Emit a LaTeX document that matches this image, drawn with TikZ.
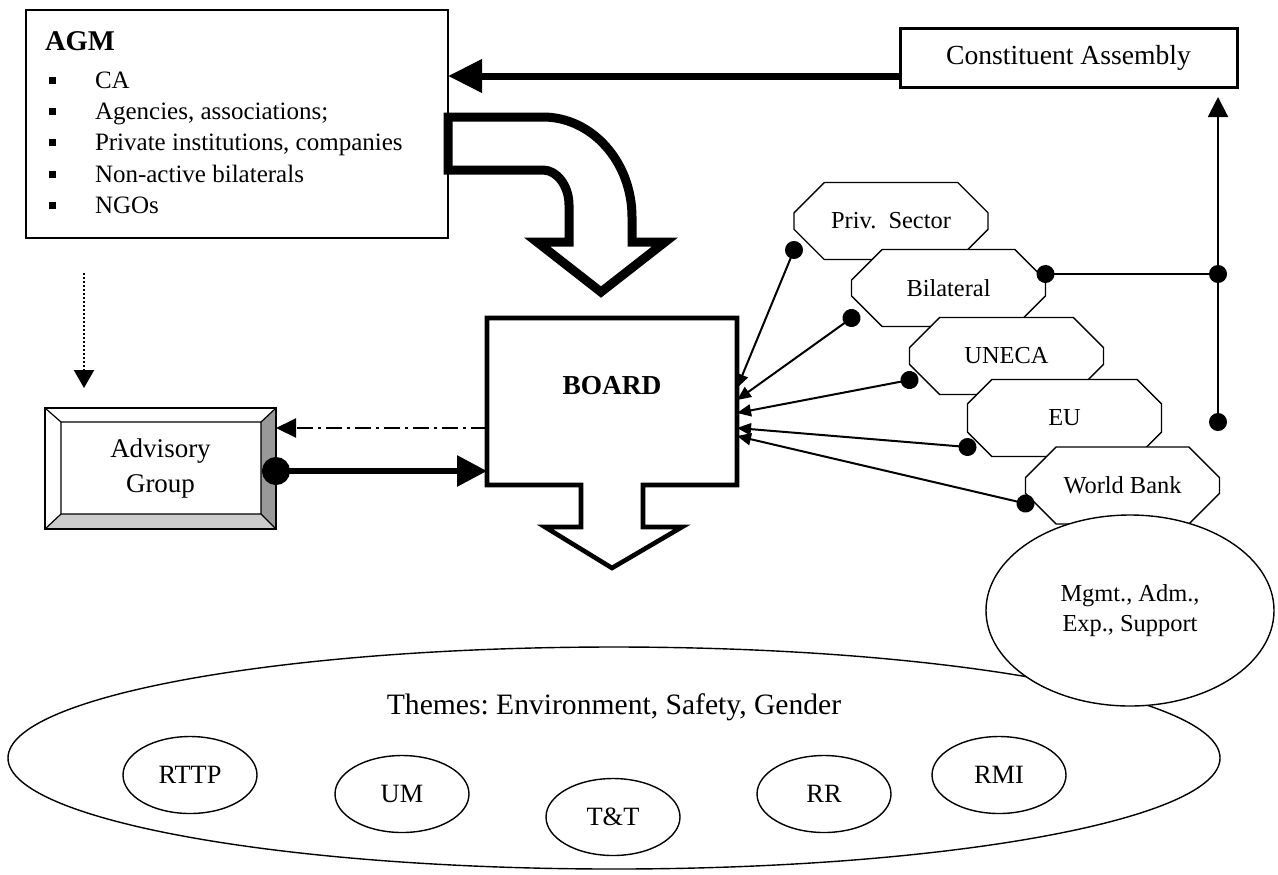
\documentclass[tikz,border=0pt]{standalone}
\usepackage{fontspec}
\setmainfont{Liberation Serif}
\usetikzlibrary{arrows.meta,shapes.geometric,shapes.misc}
\frenchspacing

\begin{document}
\begin{tikzpicture}[x=0.5pt,y=-0.5pt,
  every node/.style={inner sep=0pt,outer sep=0pt},
  agmbox/.style={draw,line width=1pt,minimum width=211pt,minimum height=114pt},
  cabox/.style={draw,line width=1.5pt,minimum width=168.5pt,minimum height=29.5pt,
    font=\fontsize{13.8}{16}\selectfont},
  listtext/.style={anchor=base west,font=\fontsize{12.5}{15}\selectfont},
  bullet/.style={fill,minimum size=3.5pt},
  octa/.style={chamfered rectangle,chamfered rectangle xsep=11pt,chamfered rectangle ysep=11pt,
    draw,fill=white,line width=0.7pt,minimum width=97pt,minimum height=38.5pt,
    font=\fontsize{12.2}{15}\selectfont},
  oval/.style={ellipse,draw,fill=white,line width=0.7pt,minimum width=67pt,minimum height=38.5pt,
    font=\fontsize{13.2}{16}\selectfont},
  blockline/.style={line width=2.3pt,line join=miter},
  bigarrow/.style={line width=3.5pt,-{Triangle[length=17pt,width=16pt]}},
  fatarrow/.style={line width=3pt,{Circle[length=14pt]}-{Triangle[length=15pt,width=15pt]},shorten <=-7pt},
  conn/.style={line width=1pt,{Circle[length=9pt]}-{Triangle[length=7pt,width=6pt]},shorten <=-4.5pt},
  upconn/.style={line width=1pt,{Circle[length=9pt]}-{Triangle[length=10pt,width=10pt]},shorten <=-4.5pt},
  dotend/.style={line width=0.7pt,{Circle[length=9pt]}-{Circle[length=9pt]},shorten <=-4.5pt,shorten >=-4.5pt},
  dotarrow/.style={line width=1pt,dash pattern=on 1pt off 1pt,-{Triangle[length=9pt,width=10pt]}},
  dashdotarrow/.style={line width=1pt,dash pattern=on 8pt off 2.5pt on 1.5pt off 2.5pt,
    -{Triangle[length=10pt,width=9.5pt]}}]
  \useasboundingbox (0,0) rectangle (1278,874);

  % themes
  \node[ellipse,draw,line width=0.7pt,minimum width=606pt,minimum height=111pt] (themes) at (614,758) {};
  \node[anchor=base,font=\fontsize{14.8}{17}\selectfont] (themetxt) at (614,714) {Themes: Environment, Safety, Gender};
  \foreach \n/\x/\y/\t in {rttp/190/775/RTTP, um/402/794/UM, tt/613/817/T\&T, rr/824/794/RR, rmi/999/775/RMI}
    \node[oval] (\n) at (\x,\y) {\t};

  % AGM
  \node[agmbox] (agm) at (237,124) {};
  \node[anchor=base west,font=\bfseries\fontsize{14.3}{17}\selectfont] (agmtxt) at (45,50) {AGM};
  \foreach \y/\t in {88/CA, 119/{Agencies, associations;}, 150/{Private institutions, companies},
      182/Non-active bilaterals, 213/NGOs} {
    \node[bullet] at (52,\y-8) {};
    \node[listtext] at (95,\y) {\t};
  }
  \draw[blockline,line width=4.5pt,fill=white] (448,117) -- (543,117)
    .. controls (592,117) and (632,162) .. (632,217) -- (632,242) -- (665,242) -- (601,292)
    -- (537,242) -- (569,242) -- (569,205) .. controls (569,186) and (557,170) .. (543,170)
    -- (448,170) -- cycle;

  % constituent assembly
  \node[cabox] (ca) at (1068.5,57.5) {Constituent Assembly};
  \draw[bigarrow] ([yshift=-9.25pt]ca.west) -- ([yshift=-9.25pt]ca.west -| agm.east);

  % board
  \node[minimum width=125pt,minimum height=83.5pt] (board) at (612,401.5) {};
  \draw[blockline] (board.north west) -- (board.north east) -- (board.south east) -- ++(-94,0)
    -- ++(0,42) -- ++(39,0) -- ++(-70,41) -- ++(-67,-41) -- ++(36,0) -- ++(0,-42)
    -- (board.south west) -- cycle;
  \node[font=\bfseries\fontsize{13.7}{16}\selectfont] (boardtxt) at ([yshift=8pt]board.center) {BOARD};

  % advisory group
  \node[minimum width=115.5pt,minimum height=60.5pt,align=center,font=\fontsize{13.5}{17.5}\selectfont]
    (adv) at (160.5,468.5) {Advisory\\Group};
  \coordinate (ai1) at ([shift={(16,14)}]adv.north west);
  \coordinate (ai2) at ([shift={(-15,14)}]adv.north east);
  \coordinate (ai3) at ([shift={(-15,-15)}]adv.south east);
  \coordinate (ai4) at ([shift={(16,-15)}]adv.south west);
  \fill[black!40] (adv.north east) -- (adv.south east) -- (ai3) -- (ai2) -- cycle;
  \fill[black!20] (adv.south west) -- (adv.south east) -- (ai3) -- (ai4) -- cycle;
  \draw[line width=0.8pt] (adv.north west) rectangle (adv.south east);
  \draw[line width=0.6pt] (ai1) rectangle (ai3) (adv.north west) -- (ai1) (adv.north east) -- (ai2)
    (adv.south east) -- (ai3) (adv.south west) -- (ai4);

  \coordinate (dtop) at (84,273);
  \draw[dotarrow] (dtop) -- ([yshift=10pt]adv.north -| dtop);
  \draw[dashdotarrow] ([yshift=-13.25pt]board.west) -- ([yshift=-13.25pt]board.west -| adv.east);
  \draw[fatarrow] ([yshift=-1.25pt]adv.east) -- ([yshift=-1.25pt]adv.east -| board.west);

  % partners
  \foreach \n/\x/\y/\t in {priv/891/221/{Priv.~~Sector}, bil/948.5/288/Bilateral,
      uneca/1006.5/356/UNECA, eu/1064.5/418/EU, wb/1122.5/485.5/World Bank}
    \node[octa] (\n) at (\x,\y) {\t};
  \foreach \n/\s/\e in {priv/-14.5pt/6.75pt, bil/-15pt/0.75pt, uneca/-12pt/-5.75pt,
      eu/-14.5pt/-13.25pt, wb/-9pt/-17.25pt}
    \draw[conn] ([yshift=\s]\n.west) -- ([yshift=\e]board.east);

  \coordinate (jn) at (1218,274);
  \coordinate (vb) at (1218,422);
  \draw[dotend] ([yshift=7pt]bil.east) -- (jn);
  \draw[upconn] (vb) -- ([yshift=-5pt]ca.south -| vb);

  % support
  \node[oval,minimum width=144pt,minimum height=95.5pt,align=center,font=\fontsize{12.2}{15}\selectfont]
    (mgmt) at (1130,610.5) {Mgmt., Adm.,\\Exp., Support};
\end{tikzpicture}
\end{document}
